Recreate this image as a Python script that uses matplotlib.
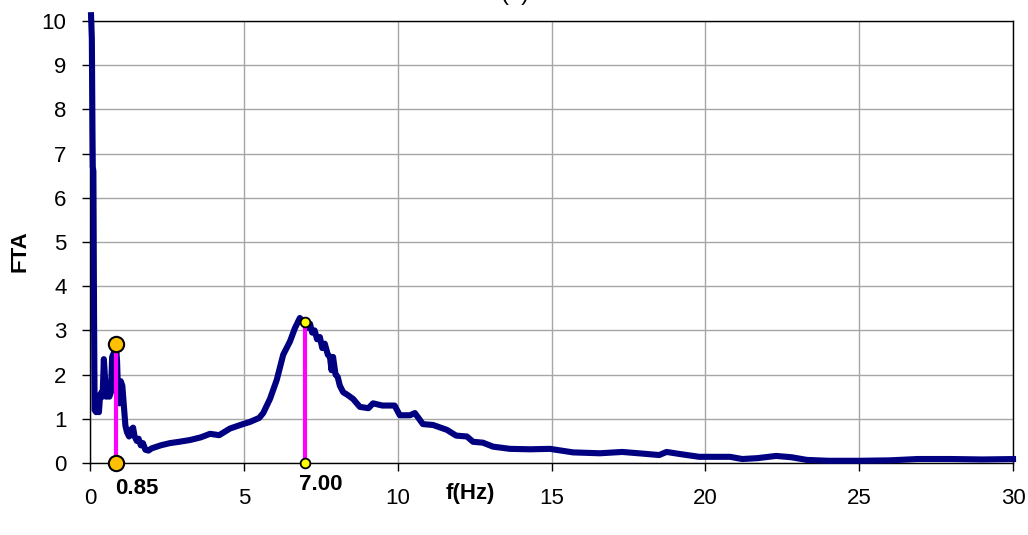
import matplotlib
matplotlib.use("Agg")
import matplotlib.pyplot as plt

plt.rcParams['font.family'] = ['Liberation Sans', 'DejaVu Sans']

freq = [0.03, 0.06, 0.08, 0.09, 0.11, 0.13, 0.15, 0.2, 0.25, 0.29, 0.33, 0.38, 0.41,
        0.45, 0.49, 0.53, 0.58, 0.63, 0.68, 0.72, 0.78, 0.84, 0.88, 0.92, 0.96, 1.0,
        1.05, 1.1, 1.15, 1.2, 1.27, 1.33, 1.4, 1.45, 1.52, 1.58, 1.65, 1.72, 1.8, 1.9,
        2.0, 2.3, 2.6, 2.9, 3.25, 3.6, 3.9, 4.2, 4.55, 4.97, 5.2, 5.5, 5.63, 5.85, 6.07,
        6.28, 6.5, 6.66, 6.82, 6.93, 7.05, 7.15, 7.22, 7.3, 7.38, 7.47, 7.55, 7.63, 7.73,
        7.8, 7.85, 7.9, 7.98, 8.05, 8.12, 8.23, 8.35, 8.55, 8.77, 9.05, 9.2, 9.5, 9.9,
        10.07, 10.4, 10.56, 10.82, 11.15, 11.6, 11.9, 12.25, 12.45, 12.77, 13.1, 13.65,
        14.3, 14.95, 15.7, 16.57, 17.3, 18.0, 18.5, 18.74, 19.2, 19.8, 20.8, 21.2, 21.7,
        22.3, 22.8, 23.3, 24.0, 25.0, 26.0, 26.9, 28.0, 29.0, 30.1]
fta = [10.2, 9.6, 7.5, 6.7, 6.6, 3.5, 1.2, 1.15, 1.3, 1.15, 1.55, 1.6, 1.5,
       2.35, 1.9, 1.5, 1.55, 1.5, 1.6, 2.4, 2.5, 2.7, 2.3, 1.4, 1.35, 1.85,
       1.75, 1.3, 0.85, 0.7, 0.6, 0.75, 0.8, 0.6, 0.5, 0.55, 0.4, 0.45, 0.3, 0.28,
       0.33, 0.4, 0.45, 0.48, 0.52, 0.58, 0.66, 0.63, 0.78, 0.88, 0.93, 1.02, 1.13, 1.45, 1.88,
       2.45, 2.75, 3.05, 3.28, 3.2, 3.05, 3.15, 2.95, 3.0, 2.8, 2.85, 2.6, 2.7, 2.45,
       2.4, 2.1, 2.4, 2.0, 1.95, 1.75, 1.6, 1.55, 1.45, 1.27, 1.24, 1.35, 1.3, 1.3,
       1.08, 1.08, 1.13, 0.88, 0.86, 0.75, 0.62, 0.6, 0.48, 0.46, 0.37, 0.32,
       0.31, 0.32, 0.24, 0.22, 0.25, 0.21, 0.18, 0.25, 0.2, 0.14, 0.14, 0.09, 0.11,
       0.16, 0.13, 0.07, 0.05, 0.05, 0.06, 0.09, 0.09, 0.08, 0.09]

peak_freqs = [0.85, 7.00]
peak_vals = [2.7, 3.2]
peak_labels = ["0.85", "7.00"]

xticks = [0, 5, 10, 15, 20, 25, 30]
yticks = list(range(0, 11))

fig = plt.figure(figsize=(10.28, 5.35), dpi=100)
ax = fig.add_axes([90/1028, 1 - 463/535, (1013 - 90)/1028, (463 - 21)/535])

ax.set_xlim(0, 30)
ax.set_ylim(0, 10)
ax.set_xticks(xticks)
ax.set_yticks(yticks)
ax.grid(True, color='#a6a6a6', linewidth=1.0)
ax.set_axisbelow(True)
for s in ax.spines.values():
    s.set_color('black')
    s.set_linewidth(1.0)
ax.tick_params(direction='out', length=6, width=1, labelsize=16, colors='black')
ax.tick_params(axis='x', pad=12)
ax.tick_params(axis='y', pad=11)

ax.plot(freq, fta, color='#000080', linewidth=4.4, solid_joinstyle='round',
        solid_capstyle='butt', clip_on=False, zorder=3)

# peak 0.85
ax.plot([peak_freqs[0], peak_freqs[0]], [0, peak_vals[0]], color='#ff00ff', linewidth=3, zorder=4, clip_on=False)
ax.plot([peak_freqs[0], peak_freqs[0]], [0, peak_vals[0]], linestyle='none', marker='o',
        markersize=11, markerfacecolor='#ffc000', markeredgecolor='black', markeredgewidth=1.5,
        zorder=5, clip_on=False)
# peak 7.00
ax.plot([peak_freqs[1], peak_freqs[1]], [0, peak_vals[1]], color='#ff00ff', linewidth=3, zorder=4, clip_on=False)
ax.plot([peak_freqs[1], peak_freqs[1]], [0, peak_vals[1]], linestyle='none', marker='o',
        markersize=7, markerfacecolor='#ffff00', markeredgecolor='black', markeredgewidth=1.3,
        zorder=5, clip_on=False)

ax.annotate(peak_labels[0], xy=(peak_freqs[0], 0), xytext=(21, -25), textcoords='offset pixels',
            ha='center', va='center', fontsize=16, fontweight='bold')
ax.annotate(peak_labels[1], xy=(peak_freqs[1], 0), xytext=(15, -21), textcoords='offset pixels',
            ha='center', va='center', fontsize=16, fontweight='bold')

ax.set_xlabel('f(Hz)', fontsize=16, fontweight='bold')
ax.xaxis.set_label_coords((470 - 90) / 923, -0.045)
ax.set_ylabel('FTA', fontsize=16, fontweight='bold')
ax.yaxis.set_label_coords(-(90 - 30) / 923, 0.48)

fig.text(515/1028, 1.0, '(a)', ha='center', va='baseline', fontsize=17)

fig.savefig('out.png', dpi=100)
